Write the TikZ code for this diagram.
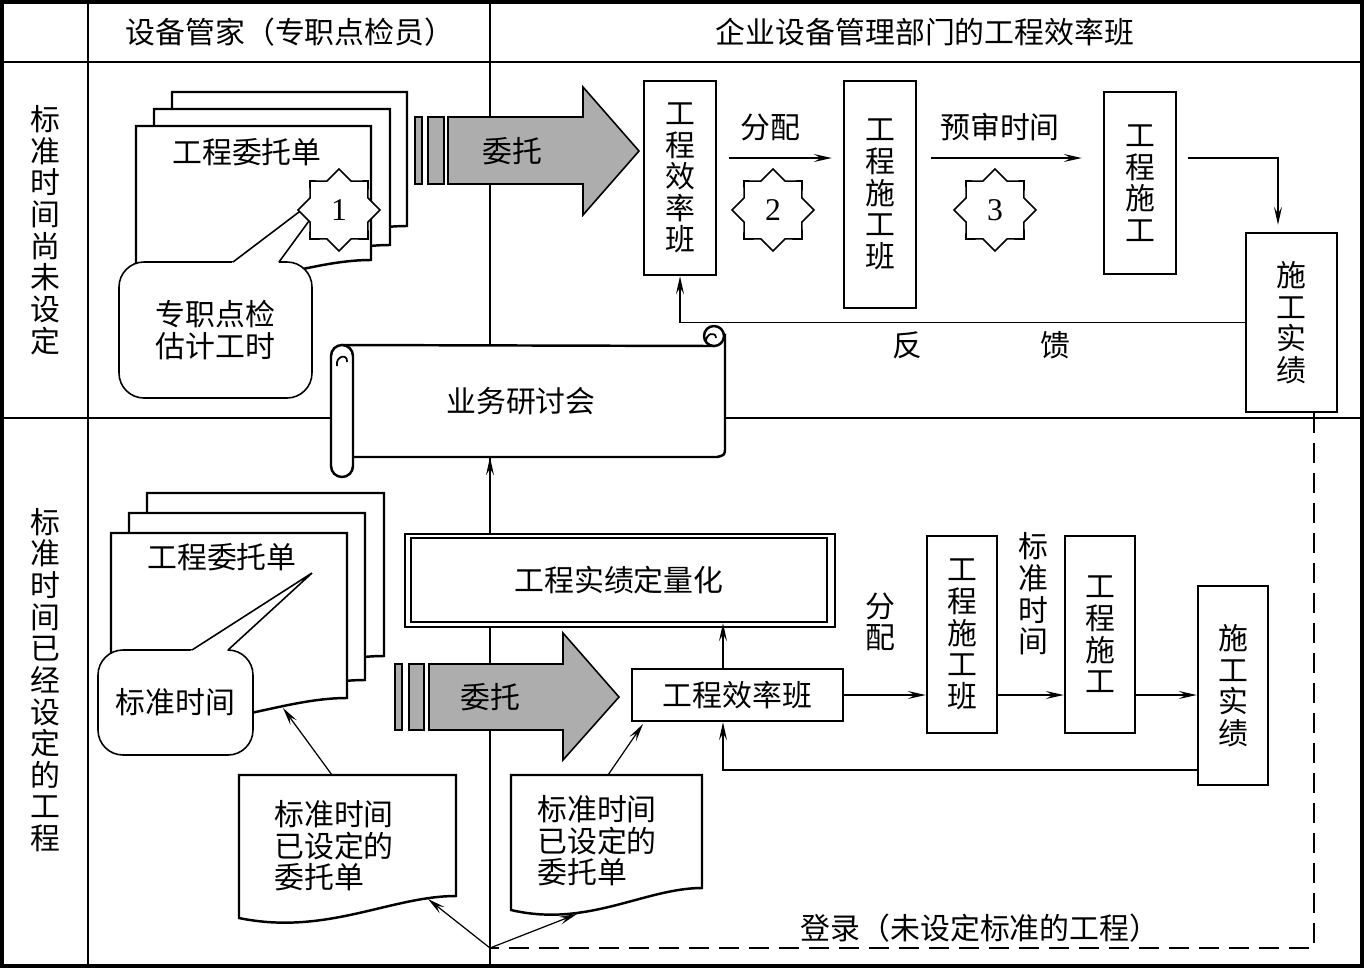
\documentclass[tikz,border=0pt]{standalone}
\usepackage{fontspec}
\setmainfont{Liberation Serif}
\newfontfamily\cjk{Noto Sans CJK SC}
\usetikzlibrary{arrows.meta, shapes.geometric}

\newcommand{\docsheet}[4]{%
  \draw[sheet] (#1,#3) -- (#2,#3) -- (#2,#4)
    .. controls ({#2-0.3*(#2-#1)},#4) and ({#2-0.6*(#2-#1)},{#4+40}) .. (#1,{#4+22}) -- cycle;}

\begin{document}
\begin{tikzpicture}[
        x=0.2mm, y=-0.2mm,
        every node/.style={font=\cjk\fontsize{17}{18}\selectfont, inner sep=0pt},
        frame line/.style={line width=1.8pt},
        thin line/.style={line width=0.7pt},
        box/.style={draw, line width=1.4pt, fill=white, align=center},
        sheet/.style={draw, line width=1.4pt, fill=white},
        bubble/.style={draw, line width=0.9pt, fill=white, rounded corners=5mm, align=center},
        badge/.style={draw, line width=0.9pt, fill=white, star, star points=8,
            star point ratio=1.31, minimum size=16.4mm, font=\fontsize{18}{18}\selectfont},
        pile/.style={line width=0.7pt, -{Stealth[length=3.6mm, width=1.6mm, inset=1.4mm]}},
        big arrow/.style={draw, line width=0.9pt, fill=black!32},
        dashed line/.style={line width=0.7pt, dash pattern=on 4mm off 2mm}]

    \useasboundingbox (0,0) rectangle (1365,969);

    % lanes
    \draw[thin line] (88,2) -- (88,966);
    \draw[thin line] (490,2) -- (490,966);
    \draw[thin line] (2,62) -- (1362,62);
    \draw[thin line] (2,418) -- (1362,418);

    \node (keeper) at (290,32) {设备管家（专职点检员）};
    \node (dept) at (925,32) {企业设备管理部门的工程效率班};
    \node[align=center] (lane1) at (45,230) {标\\准\\时\\间\\尚\\未\\设\\定};
    \node[align=center] (lane2) at (45,680) {标\\准\\时\\间\\已\\经\\设\\定\\的\\工\\程};

    % upper lane: orders
    \docsheet{172}{407}{92}{226}
    \docsheet{154}{390}{109}{245}
    \docsheet{136}{371}{126}{260}
    \node (order1) at (247,152) {工程委托单};

    \node[bubble, minimum width=38.6mm, minimum height=27.2mm] (est) at (215.5,330) {专职点检\\估计工时};
    \fill[white] (227.7,266) -- (336,184) -- (276.1,266) -- cycle;
    \draw[line width=0.9pt] (233,262) -- (336,184) -- (279,262);

    \draw[big arrow] (415,117) rectangle (422,184);
    \draw[big arrow] (428,117) rectangle (444,184);
    \draw[big arrow] (448,117) -- (583,117) -- (583,87) -- (639,151) -- (583,215) -- (583,184) -- (448,184) -- cycle;
    \node (ask1) at (512,151) {委托};

    % upper lane: flow
    \node[box, minimum width=14.4mm, minimum height=38.8mm] (eff1) at (680,178) {工\\程\\效\\率\\班};
    \node[box, minimum width=14.4mm, minimum height=45.4mm] (crew1) at (880,194.5) {工\\程\\施\\工\\班};
    \node[box, minimum width=14.4mm, minimum height=36.4mm] (work1) at (1140,183) {工\\程\\施\\工};
    \node[box, minimum width=18.2mm, minimum height=35.8mm] (res1) at (1291.5,322.5) {施\\工\\实\\绩};

    \draw[pile, shorten <=2.4mm, shorten >=2.2mm] (eff1.east |- 0,158) -- (crew1.west |- 0,158);
    \node (share1) at (770,127) {分配};
    \draw[pile, shorten <=2.8mm, shorten >=4.2mm] (crew1.east |- 0,158) -- (work1.west |- 0,158);
    \node (check) at (1000,127) {预审时间};
    \draw[pile, shorten <=2.2mm, shorten >=1.4mm] (work1.east |- 0,158) -| (1278,0 |- res1.north);
    \draw[pile] (res1.west) -| (eff1.south);
    \node (fb1) at (907,345) {反};
    \node (fb2) at (1055,345) {馈};

    \node[badge] (s1) at (339,210) {1};
    \node[badge] (s2) at (773,210) {2};
    \node[badge] (s3) at (995,210) {3};

    % scroll
    \draw[sheet] (342,345) -- (714,346) -- (725,336) -- (725,447)
        .. controls (725,455) .. (717,457) -- (342,457) -- cycle;
    \draw[sheet] (714,336) circle (10);
    \draw[line width=1pt] (706,343) .. controls (705,333) and (716,331) .. (716,338);
    \draw[sheet, rounded corners=2.2mm] (331,345) rectangle (353,477);
    \draw[line width=1pt] (337,366) .. controls (335,356) and (348,353) .. (347,362);
    \node[minimum height=22.4mm] (meet) at (521,401) {业务研讨会};

    % lower lane: orders
    \docsheet{147}{384}{493}{656}
    \docsheet{129}{365}{513}{680}
    \docsheet{111}{347}{533}{698}
    \node (order2) at (222,557) {工程委托单};

    \node[bubble, minimum width=31mm, minimum height=21mm] (std) at (175.5,702.5) {标准时间};
    \fill[white] (185.8,654) -- (312,573) -- (223.6,654) -- cycle;
    \draw[line width=0.9pt] (192,650) -- (312,573) -- (228,650);

    \docsheet{239}{456}{775}{896}
    \node[align=left] (reg1) at (334,846) {标准时间\\已设定的\\委托单};
    \docsheet{511}{702}{775}{888}
    \node[align=left] (reg2) at (597,841) {标准时间\\已设定的\\委托单};

    \draw[big arrow] (395,664) rectangle (402,730);
    \draw[big arrow] (409,664) rectangle (424,730);
    \draw[big arrow] (429,664) -- (563,664) -- (563,633) -- (619,697) -- (563,760) -- (563,730) -- (429,730) -- cycle;
    \node (ask2) at (490,697) {委托};

    % lower lane: flow
    \node[draw, thin line, fill=white, minimum width=86mm, minimum height=18.6mm] (qtyframe) at (620,580.5) {};
    \node[box, minimum width=83.2mm, minimum height=16.8mm] (qty) at (619,580) {工程实绩定量化};
    \node[box, minimum width=42.2mm, minimum height=10.4mm] (eff2) at (737.5,695) {工程效率班};
    \node[box, minimum width=14mm, minimum height=39.4mm] (crew2) at (962,634.5) {工\\程\\施\\工\\班};
    \node[box, minimum width=14mm, minimum height=39.4mm] (work2) at (1100,634.5) {工\\程\\施\\工};
    \node[box, minimum width=14mm, minimum height=39.8mm] (res2) at (1233,685.5) {施\\工\\实\\绩};

    \draw[pile] (eff2.east) -- (crew2.west |- eff2.east);
    \node[align=center] (share2) at (880,622) {分\\配};
    \draw[pile] (crew2.east |- eff2.east) -- (work2.west |- eff2.east);
    \node[align=center] (stdtime) at (1033,594) {标\\准\\时\\间};
    \draw[pile] (work2.east |- eff2.east) -- (res2.west |- eff2.east);
    \draw[pile] (res2.west |- 0,770) -| (723,0 |- eff2.south);
    \draw[pile] (723,0 |- eff2.north) -- (723,0 |- qty.south);
    \draw[pile] (490,0 |- qtyframe.north) -- (490,0 |- meet.south);

    \coordinate (reg1top) at (332,775);
    \coordinate (wave) at (283,708);
    \coordinate (reg2top) at (608,775);
    \coordinate (effcorner) at (643,724);
    \draw[pile] (reg1top) -- (wave);
    \draw[pile] (reg2top) -- (effcorner);

    % log
    \coordinate (hub) at (490,948);
    \coordinate (reg1tip) at (428,899);
    \coordinate (reg2tip) at (577,914);
    \draw[dashed line] (1314,0 |- res1.south) -- (1314,948) -- (hub);
    \draw[pile] (hub) -- (reg1tip);
    \draw[pile] (hub) -- (reg2tip);
    \node (log) at (980,928) {登录（未设定标准的工程）};

    \draw[frame line] (2,2) rectangle (1362,966);
\end{tikzpicture}
\end{document}
